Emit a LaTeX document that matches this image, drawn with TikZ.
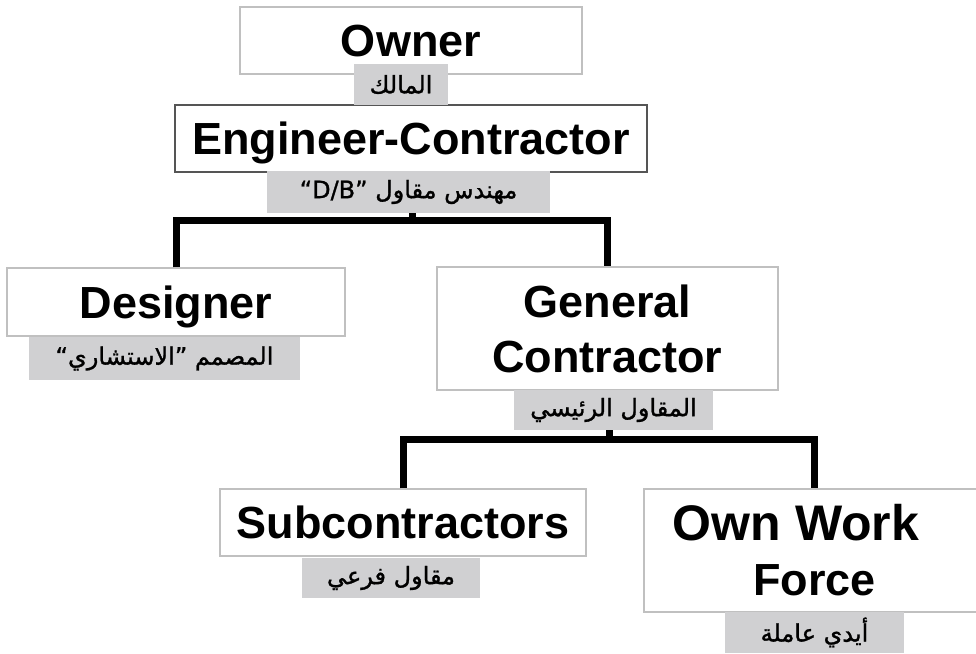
\documentclass[tikz,border=0pt]{standalone}
\usepackage{fontspec}
\setmainfont{Liberation Sans}
\newfontfamily\arabicfont[Script=Arabic,FakeBold=1.2]{DejaVu Sans}
\TeXXeTstate=1
\definecolor{boxline}{RGB}{192,192,192}
\definecolor{darkline}{RGB}{85,85,85}
\definecolor{tagfill}{RGB}{208,208,210}
\tikzset{
  role/.style={draw=boxline, line width=1.3pt, fill=white, inner sep=0pt,
    align=center, font=\bfseries\fontsize{45}{55}\selectfont},
  oneline/.style={text height=32pt, text depth=0pt},
  tag/.style={fill=tagfill, inner sep=0pt,
    font=\arabicfont\fontsize{24}{28}\selectfont},
  conn/.style={line width=7pt, line join=miter, draw=black}
}
\begin{document}
\begin{tikzpicture}[x=1pt,y=-1pt]
\useasboundingbox (0,0) rectangle (976,653);

% role boxes
\node[role, oneline, minimum width=342pt, minimum height=67pt] (own) at (411,40.5) {Owner};
\node[role, oneline, draw=darkline, line width=1.8pt, minimum width=472pt, minimum height=67pt] (ec) at (411,138.5) {Engineer-Contractor};
\node[role, oneline, minimum width=338pt, minimum height=68pt] (des) at (176,302) {Designer};
\node[role, minimum width=341pt, minimum height=123pt] (gc) at (607.5,328.5) {General\\Contractor};
\node[role, oneline, minimum width=366pt, minimum height=67pt] (sub) at (403,522.5) {Subcontractors};
\node[role, minimum width=341pt, minimum height=123pt] (owf) at (814.5,550.5)
  {{\fontsize{50}{53}\selectfont Own Work\rule{37pt}{0pt}}\\Force};

% branch points of the connector buses
\coordinate (bus1) at (412,220.5);
\coordinate (bus2) at (609,439);

% connectors
\draw[conn] (des.north) |- (bus1) -| (gc.north);
\draw[conn] (sub.north) |- (bus2) -| (owf.north);

% Arabic tags under the boxes
\node[tag, minimum width=94pt, minimum height=41pt] (ownt) at (401,84.5) {\beginR المالك\endR};
\node[tag, minimum width=283pt, minimum height=42pt] (ect) at (408.5,192) {\beginR مهندس مقاول \beginL“D/B”\endL\endR};
\node[tag, minimum width=271pt, minimum height=43pt] (dest) at (164.5,358.5) {\beginR المصمم ”الاستشاري“\endR};
\node[tag, minimum width=199pt, minimum height=40pt] (gct) at (613.5,410) {\beginR المقاول الرئيسي\endR};
\node[tag, minimum width=178pt, minimum height=40pt] (subt) at (391,578) {\beginR مقاول فرعي\endR};
\node[tag, minimum width=179pt, minimum height=41pt] (owft) at (814.5,632.5) {\beginR أيدي عاملة\endR};

% stems from the tags down to the buses
\draw[conn] (ect.south -| bus1) -- (bus1);
\draw[conn] (gct.south -| bus2) -- (bus2);
\end{tikzpicture}
\end{document}
